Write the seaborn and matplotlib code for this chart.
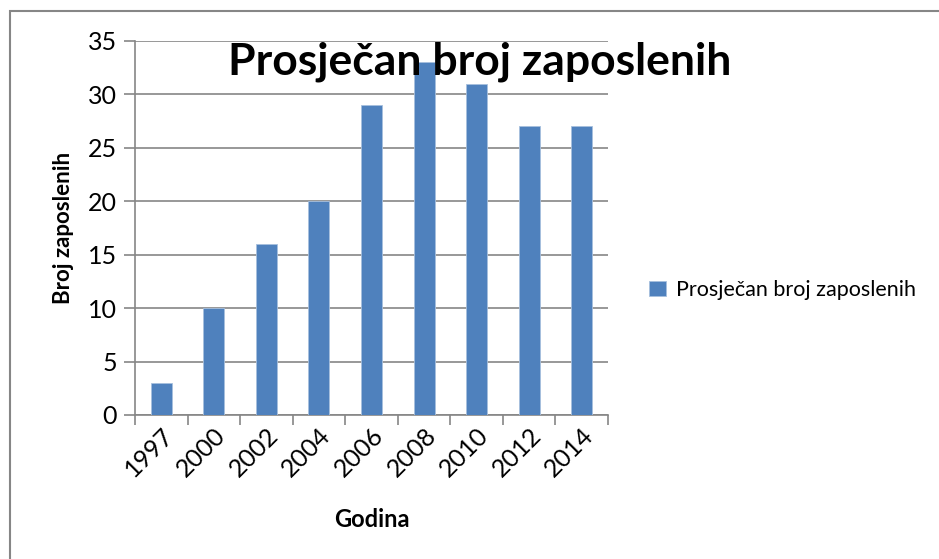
import pandas as pd
import matplotlib.pyplot as plt
import seaborn as sns
from matplotlib.patches import Rectangle
from matplotlib.ticker import FixedLocator

# Data
godine = ["1997", "2000", "2002", "2004", "2006", "2008", "2010", "2012", "2014"]
zaposleni = [3, 10, 16, 20, 29, 33, 31, 27, 27]
serija = "Prosječan broj zaposlenih"

df = pd.DataFrame({"Godina": godine, "Broj": zaposleni})

sns.set_style("white")
plt.rcParams["font.family"] = ["Lato", "DejaVu Sans"]
plt.rcParams["text.color"] = "black"
plt.rcParams["axes.labelcolor"] = "black"
plt.rcParams["xtick.labelcolor"] = "black"
plt.rcParams["ytick.labelcolor"] = "black"

fig = plt.figure(figsize=(9.39, 5.59), dpi=100)
ax = fig.add_axes([135 / 939, 1 - 415 / 559, (608 - 135) / 939, (415 - 41) / 559])

sns.barplot(data=df, x="Godina", y="Broj", color="#4F81BD", width=0.4,
            saturation=1, edgecolor="#A7C0DE", linewidth=0.6, label=serija, ax=ax, zorder=3)

ax.set_ylim(0, 35)
ax.set_xlim(-0.5, len(godine) - 0.5)
ax.set_yticks(range(0, 36, 5))
ax.grid(axis="y", color="#868686", linewidth=1.2, zorder=0)
ax.grid(axis="x", visible=False)

for s in ["top", "right"]:
    ax.spines[s].set_visible(False)
for s in ["left", "bottom"]:
    ax.spines[s].set_color("#868686")
    ax.spines[s].set_linewidth(1.2)

ax.tick_params(axis="y", which="major", length=8, width=1.2, color="#868686",
               labelsize=18, pad=5, left=True)
ax.tick_params(axis="x", which="major", length=0, labelsize=18, pad=6)
ax.xaxis.set_minor_locator(FixedLocator([i - 0.5 for i in range(len(godine) + 1)]))
ax.tick_params(axis="x", which="minor", length=7, width=1.2, color="#868686", bottom=True)
plt.setp(ax.get_xticklabels(), rotation=45, ha="right", rotation_mode="anchor")

ax.set_xlabel("Godina", fontsize=17, fontweight="bold", labelpad=20)
ax.set_ylabel("Broj zaposlenih", fontsize=16, fontweight="bold", labelpad=10)

fig.text(480 / 939, 1 - 62 / 559, serija, fontsize=32, fontweight="bold",
         ha="center", va="center")

ax.legend(loc="center left", bbox_to_anchor=(630 / 939, 1 - 290 / 559),
          bbox_transform=fig.transFigure, frameon=False, fontsize=15.5,
          handlelength=0.75, handleheight=0.75, handletextpad=0.5)

# outer chart border
fig.patches.append(Rectangle((10 / 939, -0.1), 1.2, 1 - 11 / 559 + 0.1,
                             transform=fig.transFigure, fill=False,
                             edgecolor="#868686", linewidth=1.5))

fig.savefig("out.png", dpi=100)
